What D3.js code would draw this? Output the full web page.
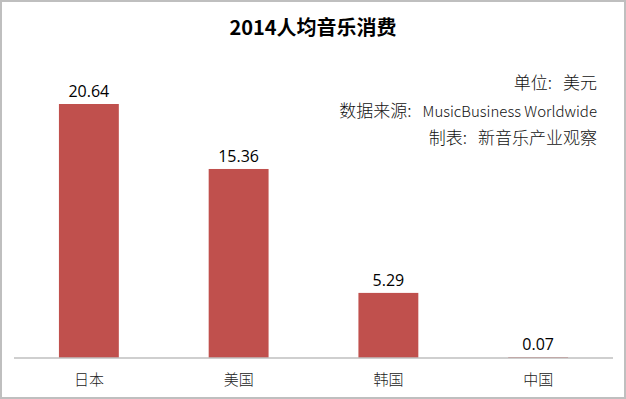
<!DOCTYPE html>
<html>
<head>
<meta charset="utf-8">
<script src="https://cdn.jsdelivr.net/npm/d3@7"></script>
<style>
  html, body { margin: 0; padding: 0; background: #fff; }
  svg { display: block; }
</style>
</head>
<body>
<script>
const categories = ['日本', '美国', '韩国', '中国'];
const values = [20.64, 15.36, 5.29, 0.07];
const noteLabels = ['单位', '数据来源', '制表'];
const noteValues = ['美元', 'MusicBusiness Worldwide', '新音乐产业观察'];
const title = '2014人均音乐消费';

const width = 626, height = 399;
const margin = {top: 40, right: 13, bottom: 41, left: 14};

const svg = d3.select('body').append('svg')
    .attr('width', width)
    .attr('height', height);

// outer frame
svg.append('rect')
    .attr('x', 1).attr('y', 1)
    .attr('width', width - 2).attr('height', height - 2)
    .attr('fill', '#fff')
    .attr('stroke', '#bfbfbf')
    .attr('stroke-width', 2);

const x = d3.scaleBand()
    .domain(categories)
    .range([margin.left, width - margin.right])
    .paddingInner(0.6)
    .paddingOuter(0.3);

const y = d3.scaleLinear()
    .domain([0, 20.64 / 254 * 318])
    .range([height - margin.bottom, margin.top]);

svg.append('text')
    .attr('x', 313).attr('y', 35)
    .attr('text-anchor', 'middle')
    .attr('font-family', 'Noto Sans CJK SC')
    .attr('font-weight', 'bold')
    .attr('font-size', 20)
    .attr('fill', '#000')
    .text(title);

svg.selectAll('rect.bar')
    .data(values)
    .join('rect')
    .attr('class', 'bar')
    .attr('x', (d, i) => x(categories[i]))
    .attr('y', d => y(d))
    .attr('width', x.bandwidth())
    .attr('height', d => y(0) - y(d))
    .attr('fill', '#c0504d');

svg.selectAll('text.val')
    .data(values)
    .join('text')
    .attr('class', 'val')
    .attr('x', (d, i) => x(categories[i]) + x.bandwidth() / 2)
    .attr('y', d => y(d) - 7)
    .attr('text-anchor', 'middle')
    .attr('font-family', 'Open Sans, sans-serif')
    .attr('font-size', 16)
    .attr('fill', '#000')
    .text(d => d.toFixed(2));

const xAxis = svg.append('g')
    .attr('transform', `translate(0,${y(0)})`)
    .call(d3.axisBottom(x).tickSize(0).tickPadding(16));
xAxis.select('.domain')
    .attr('stroke', '#bfbfbf')
    .attr('stroke-width', 1.5)
    .attr('d', `M${margin.left},0H${width - margin.right}`);
xAxis.selectAll('text')
    .attr('font-family', 'Noto Sans CJK SC')
    .attr('font-weight', 300)
    .attr('font-size', 15)
    .attr('fill', '#222');

// source notes, right aligned
const note = svg.selectAll('text.note')
    .data(noteLabels)
    .join('text')
    .attr('class', 'note')
    .attr('x', 597)
    .attr('y', (d, i) => 89 + i * 27.5)
    .attr('text-anchor', 'end')
    .attr('font-family', 'Noto Sans CJK SC')
    .attr('font-weight', 300)
    .attr('font-size', 17)
    .attr('fill', '#111');
note.append('tspan').text(d => d + ':');
note.append('tspan')
    .attr('dx', 11)
    .attr('font-size', (d, i) => /[A-Za-z]/.test(noteValues[i]) ? 15 : 17)
    .text((d, i) => noteValues[i]);
</script>
</body>
</html>
